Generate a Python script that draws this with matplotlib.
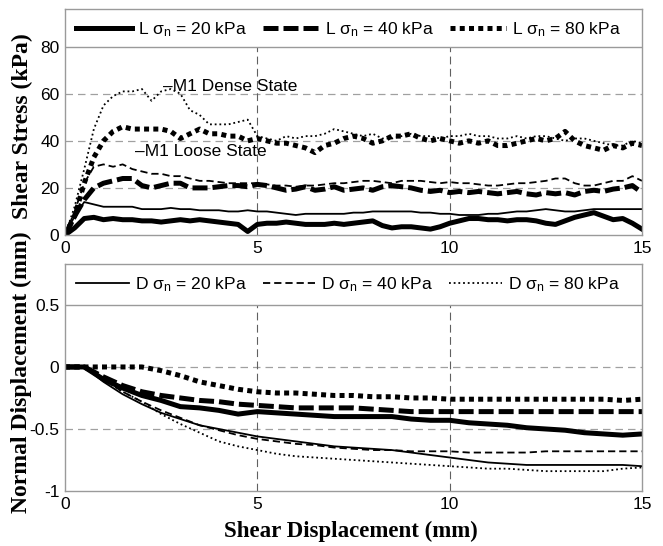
import numpy as np
import matplotlib
matplotlib.use("Agg")
import matplotlib.pyplot as plt

plt.rcParams['axes.unicode_minus'] = False
plt.rcParams['font.family'] = ['Liberation Sans', 'DejaVu Sans']
plt.rcParams['mathtext.fontset'] = 'custom'
plt.rcParams['mathtext.rm'] = 'Liberation Sans'
plt.rcParams['mathtext.it'] = 'Liberation Sans'

# ---------------- data ----------------
x_top = np.linspace(0, 15, 61)

tau_L20 = [0, 3, 7, 7.5, 6.5, 7, 6.5, 6.5, 6, 6, 5.5, 6, 6.5, 6, 6.5, 6, 5.5, 5, 4.5, 1.5,
           4.5, 5, 5, 5.5, 5, 4.5, 4.5, 4.5, 5, 4.5, 5, 5.5, 6, 4, 3, 3.5, 3.5, 3, 2.5, 3.5,
           5, 6, 7, 7, 6.5, 6.5, 6, 6.5, 6.5, 6, 5, 4.5, 6, 7.5, 8.5, 9.5, 8, 6.5, 7, 5, 2.5]
tau_D20 = [0, 8, 14, 13, 12, 12, 12, 12, 11, 11, 11, 11.5, 11, 11, 10.5, 10.5, 10.5, 10, 10, 10.5,
           10, 10, 9.5, 9, 8.5, 9, 9, 9, 9, 9, 9.5, 9.5, 10, 10, 10, 10, 10, 9.5, 9.5, 9,
           9, 8.5, 8.5, 8.5, 9, 9, 9.5, 10, 10, 10.5, 11, 10.5, 10, 10, 10.5, 11, 11, 11, 11, 11, 11]
tau_L40 = [0, 8, 15, 20, 22, 23, 24, 24, 21, 20, 21, 22, 22, 20, 20, 20, 20.5, 21, 21, 20.5,
           21.5, 21, 20, 19, 19.5, 20.5, 19, 19.5, 20.5, 19, 19.5, 20, 19, 20.5, 21, 20.5, 20, 19, 18.5, 19,
           18, 18.5, 18, 18.5, 18, 17.5, 18, 18.5, 17.5, 17, 18, 17.5, 18, 17, 18.5, 19, 18.5, 19.5, 20, 21, 18]
tau_D40 = [0, 10, 22, 29, 30, 29, 30, 28, 27, 26, 26, 25, 25, 24, 23, 23, 22.5, 22, 22, 22,
           22, 21.5, 21, 21, 20.5, 21, 21, 21.5, 22, 22, 22.5, 23, 23, 22.5, 22, 23, 23, 23, 22.5, 22,
           22.5, 22, 22, 21.5, 21, 21, 21.5, 22, 22, 22.5, 23, 24, 24, 22, 21, 21, 22, 23, 23, 25, 23]
tau_L80 = [0, 8, 22, 33, 40, 44, 46, 45, 45, 45, 45, 44, 41, 43, 45, 43, 43, 42, 42, 40,
           41, 40, 39, 39, 38, 37, 35, 38, 39, 41, 42, 41, 39, 40, 42, 42, 43, 41, 40, 41,
           40, 39, 40, 39, 40, 38, 38, 39, 40, 41, 40, 41, 44, 40, 38, 37, 36, 38, 37, 39, 38]
tau_D80 = [0, 12, 28, 45, 55, 59, 61, 61, 62, 57, 61, 62, 60, 53, 51, 47, 47, 47, 48, 49,
           42, 41, 40, 42, 41, 42, 42, 43, 45, 44, 43, 42, 43, 41, 41, 42, 43, 42, 42, 41,
           42, 42, 43, 42, 42, 41, 41, 42, 41, 42, 42, 41, 40, 41, 41, 40, 39, 38, 38, 40, 39]

x_bot = np.linspace(0, 15, 31)
dn_L20 = [0, 0, -0.1, -0.17, -0.23, -0.27, -0.32, -0.33, -0.35, -0.38, -0.36, -0.37, -0.38, -0.39,
          -0.4, -0.4, -0.4, -0.4, -0.42, -0.43, -0.43, -0.45, -0.46, -0.47, -0.49, -0.5, -0.51,
          -0.53, -0.54, -0.55, -0.54]
dn_L40 = [0, 0, -0.08, -0.15, -0.2, -0.23, -0.25, -0.27, -0.28, -0.3, -0.31, -0.32, -0.33, -0.33,
          -0.33, -0.33, -0.34, -0.35, -0.36, -0.36, -0.36, -0.36, -0.36, -0.36, -0.36, -0.36, -0.36,
          -0.36, -0.36, -0.36, -0.36]
dn_L80 = [0, 0, 0, 0, 0, -0.03, -0.07, -0.12, -0.15, -0.18, -0.2, -0.21, -0.21, -0.22, -0.23,
          -0.23, -0.24, -0.24, -0.25, -0.25, -0.26, -0.26, -0.26, -0.26, -0.26, -0.26, -0.26,
          -0.26, -0.26, -0.27, -0.26]
dn_D20 = [0, 0, -0.12, -0.22, -0.3, -0.37, -0.42, -0.47, -0.5, -0.53, -0.56, -0.58, -0.6, -0.62,
          -0.64, -0.65, -0.66, -0.67, -0.69, -0.71, -0.73, -0.75, -0.77, -0.78, -0.79, -0.79,
          -0.79, -0.79, -0.79, -0.79, -0.8]
dn_D40 = [0, 0, -0.1, -0.2, -0.28, -0.35, -0.41, -0.47, -0.51, -0.55, -0.58, -0.6, -0.62, -0.63,
          -0.65, -0.66, -0.67, -0.67, -0.68, -0.68, -0.68, -0.69, -0.69, -0.69, -0.69, -0.68,
          -0.68, -0.68, -0.68, -0.68, -0.68]
dn_D80 = [0, 0, -0.1, -0.2, -0.28, -0.38, -0.46, -0.53, -0.6, -0.64, -0.67, -0.7, -0.72, -0.73,
          -0.74, -0.75, -0.76, -0.77, -0.78, -0.79, -0.8, -0.81, -0.82, -0.82, -0.83, -0.84,
          -0.84, -0.84, -0.84, -0.82, -0.81]

labels_L = [r"L $\sigma_n$ = 20 kPa", r"L $\sigma_n$ = 40 kPa", r"L $\sigma_n$ = 80 kPa"]
labels_D = [r"D $\sigma_n$ = 20 kPa", r"D $\sigma_n$ = 40 kPa", r"D $\sigma_n$ = 80 kPa"]
xticks = [0, 5, 10, 15]
yticks_top = [0, 20, 40, 60, 80]
yticks_bot = [-1, -0.5, 0, 0.5]

# ---------------- styles ----------------
THICK = 3.6
THIN = 1.3
ls_solid = '-'
ls_thick_dash = (0, (3, 1))
ls_thick_dot = (0, (1.0, 0.85))
ls_thin_dash = (0, (4, 2.2))
ls_thin_dot = (0, (1, 1.6))

fig = plt.figure(figsize=(6.63, 5.46), dpi=100)
L, R = 65 / 663, 642 / 663
ax1 = fig.add_axes([L, 1 - 235 / 546, R - L, (235 - 9) / 546])
ax2 = fig.add_axes([L, 1 - 491 / 546, R - L, (491 - 264) / 546])

def style(ax):
    for s in ax.spines.values():
        s.set_color('#9a9a9a')
        s.set_linewidth(1.0)
    ax.tick_params(length=0, labelsize=12.5, pad=4)
    ax.set_xlim(0, 15)
    ax.set_xticks(xticks)
    ax.set_xticklabels([str(v) for v in xticks])

# top
style(ax1)
ax1.set_ylim(0, 96)
ax1.set_yticks(yticks_top)
for yv in [20, 40, 60]:
    ax1.axhline(yv, color='#a0a0a0', lw=0.9, ls=(0, (6, 4)), zorder=0)
for xv in [5, 10]:
    ax1.plot([xv, xv], [0, 80], color='#606060', lw=0.8, ls=(0, (7, 4)), zorder=0)
ax1.axhline(80, color='#9a9a9a', lw=1.0, zorder=1)

h1, = ax1.plot(x_top, tau_L20, color='k', lw=THICK, ls=ls_solid)
h2, = ax1.plot(x_top, tau_L40, color='k', lw=THICK, ls=ls_thick_dash)
h3, = ax1.plot(x_top, tau_L80, color='k', lw=THICK, ls=ls_thick_dot)
ax1.plot(x_top, tau_D20, color='k', lw=THIN, ls=ls_solid)
ax1.plot(x_top, tau_D40, color='k', lw=THIN, ls=ls_thin_dash)
ax1.plot(x_top, tau_D80, color='k', lw=THIN, ls=ls_thin_dot)

ax1.text(2.55, 63, "\u2013M1 Dense State", fontsize=12.5, va='center', ha='left')
ax1.text(1.82, 35.3, "\u2013M1 Loose State", fontsize=12.5, va='center', ha='left')

ax1.legend([h1, h2, h3], labels_L, ncol=3, loc='upper left',
           bbox_to_anchor=(0.0, 1.0), frameon=False, fontsize=12.6,
           handlelength=3.2, handletextpad=0.35, columnspacing=0.9,
           borderaxespad=0.3, borderpad=0.35)

# bottom
style(ax2)
ax2.set_ylim(-1, 0.83)
ax2.set_yticks(yticks_bot)
ax2.set_yticklabels(['-1', '-0.5', '0', '0.5'])
for yv in [0, -0.5]:
    ax2.axhline(yv, color='#a0a0a0', lw=0.9, ls=(0, (6, 4)), zorder=0)
for xv in [5, 10]:
    ax2.plot([xv, xv], [-1, 0.5], color='#606060', lw=0.8, ls=(0, (7, 4)), zorder=0)
ax2.axhline(0.5, color='#9a9a9a', lw=1.0, zorder=1)

g1, = ax2.plot(x_bot, dn_D20, color='k', lw=THIN, ls=ls_solid)
g2, = ax2.plot(x_bot, dn_D40, color='k', lw=THIN, ls=ls_thin_dash)
g3, = ax2.plot(x_bot, dn_D80, color='k', lw=THIN, ls=ls_thin_dot)
ax2.plot(x_bot, dn_L20, color='k', lw=THICK, ls=ls_solid)
ax2.plot(x_bot, dn_L40, color='k', lw=THICK, ls=ls_thick_dash)
ax2.plot(x_bot, dn_L80, color='k', lw=THICK, ls=ls_thick_dot)

ax2.legend([g1, g2, g3], labels_D, ncol=3, loc='upper left',
           bbox_to_anchor=(0.0, 1.0), frameon=False, fontsize=12.6,
           handlelength=3.0, handletextpad=0.35, columnspacing=0.9,
           borderaxespad=0.3, borderpad=0.35)

serif = ['Liberation Serif', 'DejaVu Serif']
fig.text(22 / 663, 1 - 126 / 546, "Shear Stress (kPa)", rotation=90, fontsize=17,
         fontweight='bold', family=serif, ha='center', va='center')
fig.text(21 / 663, 1 - 372 / 546, "Normal Displacement (mm)", rotation=90, fontsize=17,
         fontweight='bold', family=serif, ha='center', va='center')
fig.text((L + R) / 2 - 3 / 663, 1 - 531 / 546, "Shear Displacement (mm)", fontsize=16.5,
         fontweight='bold', family=serif, ha='center', va='center')

fig.savefig("out.png", dpi=100)
